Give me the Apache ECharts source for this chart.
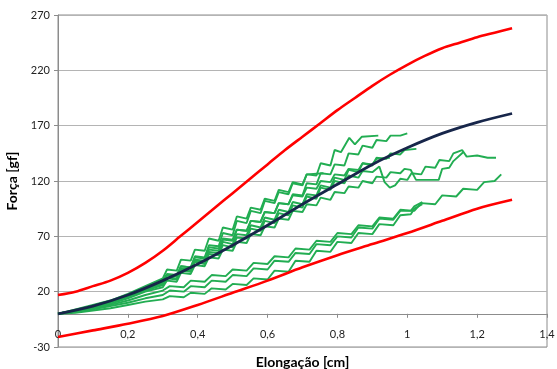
<!DOCTYPE html>
<html>
<head>
<meta charset="utf-8">
<script src="https://cdn.jsdelivr.net/npm/echarts@6/dist/echarts.min.js"></script>
<style>html,body{margin:0;padding:0;background:#fff}#c{width:557px;height:369px}</style>
</head>
<body>
<div id="c"></div>
<script>
// Axis settings / labels
const xTitle = 'Elongação [cm]';
const yTitle = 'Força [gf]';
const xMin = 0, xMax = 1.4, xStep = 0.2;
const yMin = -30, yMax = 270, yStep = 50;

// Mean curve
const meanCurve = [[0,0],[0.1,7],[0.2,17],[0.3,30],[0.4,45],[0.5,62],[0.6,80],[0.7,99],[0.8,117],[0.9,135],[1.0,150],[1.1,163],[1.2,173],[1.3,181]];
// Upper limit curve
const upperCurve = [[0,17],[0.05,20],[0.1,25],[0.15,30],[0.2,37],[0.25,46],[0.3,57],[0.35,70],[0.4,83],[0.45,96],[0.5,109],[0.55,122],[0.6,135],[0.65,148],[0.7,160],[0.75,172],[0.8,184],[0.85,195],[0.9,206],[0.95,216],[1.0,225],[1.05,233],[1.1,240],[1.15,245],[1.2,250],[1.25,254],[1.3,258]];
// Lower limit curve
const lowerCurve = [[0,-21],[0.1,-15],[0.2,-9],[0.3,-2],[0.4,8],[0.5,19],[0.6,30],[0.7,42],[0.8,53],[0.9,63],[1.0,73],[1.1,84],[1.2,95],[1.3,103]];

// Individual samples
const sample1 = [[0,0],[0.05,3],[0.1,7],[0.15,11],[0.2,17],[0.25,24],[0.3,30],[0.312,36],[0.34,35],[0.352,43],[0.38,42],[0.392,52],[0.42,51],[0.432,62],[0.46,61],[0.472,73],[0.5,71],[0.512,84],[0.54,82],[0.552,93],[0.58,91],[0.592,102],[0.62,100],[0.632,110],[0.66,108],[0.672,118],[0.7,116],[0.712,126],[0.74,125],[0.752,136],[0.78,134],[0.792,148],[0.81,146],[0.834,159],[0.85,153],[0.87,160],[0.917,161]];
const sample2 = [[0,0],[0.05,3],[0.1,7],[0.15,11],[0.2,17],[0.25,24],[0.3,29],[0.312,35],[0.34,34],[0.352,41],[0.38,41],[0.392,49],[0.42,48],[0.432,58],[0.46,57],[0.472,67],[0.5,66],[0.512,76],[0.54,75],[0.552,84],[0.58,83],[0.592,92],[0.62,91],[0.632,100],[0.66,99],[0.672,108],[0.7,107],[0.712,118],[0.74,117],[0.752,127],[0.78,126],[0.792,135],[0.82,134],[0.832,145],[0.86,144],[0.872,152],[0.9,150],[0.912,157],[0.94,156],[0.952,161],[0.98,161],[1.0,163]];
const sample3 = [[0,0],[0.05,3],[0.1,6],[0.15,10],[0.2,16],[0.25,22],[0.3,27],[0.312,33],[0.34,32],[0.352,40],[0.38,39],[0.392,48],[0.42,47],[0.432,56],[0.46,55],[0.472,65],[0.5,63],[0.512,72],[0.54,71],[0.552,80],[0.58,78],[0.592,87],[0.62,85],[0.632,94],[0.66,92],[0.672,101],[0.7,99],[0.712,108],[0.74,107],[0.752,116],[0.78,114],[0.792,123],[0.82,121],[0.832,130],[0.86,128],[0.872,136],[0.9,134],[0.912,141],[0.94,140],[0.952,145],[0.98,144],[0.992,148],[1.026,149]];
const sample4 = [[0,0],[0.05,3],[0.1,6],[0.15,10],[0.2,15],[0.25,21],[0.3,26],[0.312,32],[0.34,31],[0.352,39],[0.38,38],[0.392,47],[0.42,45],[0.432,54],[0.46,53],[0.472,62],[0.5,60],[0.512,69],[0.54,68],[0.552,77],[0.58,75],[0.592,84],[0.62,82],[0.632,91],[0.66,89],[0.672,98],[0.7,96],[0.712,106],[0.74,104],[0.752,114],[0.78,112],[0.792,120],[0.82,118],[0.832,125],[0.86,123],[0.872,129],[0.9,128],[0.92,133],[0.935,119],[0.95,114],[0.965,116],[0.98,122],[1.0,121],[1.012,127],[1.04,126],[1.052,133],[1.08,132],[1.092,139],[1.12,138],[1.132,145],[1.157,148],[1.17,142],[1.2,143],[1.23,141],[1.254,141]];
const sample5 = [[0,0],[0.05,2],[0.1,5],[0.15,9],[0.2,14],[0.25,20],[0.3,24],[0.312,30],[0.34,29],[0.352,37],[0.38,36],[0.392,44],[0.42,43],[0.432,51],[0.46,50],[0.472,58],[0.5,57],[0.512,65],[0.54,64],[0.552,72],[0.58,71],[0.592,79],[0.62,78],[0.632,86],[0.66,85],[0.672,93],[0.7,92],[0.712,99],[0.74,98],[0.752,105],[0.78,103],[0.792,110],[0.82,109],[0.832,115],[0.86,114],[0.872,120],[0.9,118],[0.912,124],[0.94,123],[0.952,128],[0.98,127],[0.992,131],[1.01,130],[1.025,121],[1.09,121],[1.1,131],[1.12,132],[1.132,138],[1.16,146]];
const sample6 = [[0,0],[0.05,3],[0.1,7],[0.15,11],[0.2,16],[0.25,23],[0.3,28],[0.312,35],[0.34,34],[0.352,43],[0.38,42],[0.392,51],[0.42,50],[0.432,60],[0.46,59],[0.472,68],[0.5,67],[0.512,76],[0.54,75],[0.552,84],[0.58,83],[0.592,92],[0.62,91],[0.632,100],[0.66,99],[0.672,107],[0.7,106],[0.712,114],[0.74,113],[0.752,120],[0.78,119],[0.792,126],[0.82,125],[0.832,131],[0.86,130],[0.872,136],[0.9,135],[0.912,140],[0.95,141]];
const sample7 = [[0,0],[0.05,4],[0.1,8],[0.15,12],[0.2,18],[0.25,25],[0.3,32],[0.312,40],[0.34,39],[0.352,49],[0.38,48],[0.392,58],[0.42,57],[0.432,68],[0.46,66],[0.472,78],[0.5,76],[0.512,88],[0.54,86],[0.552,96],[0.58,94],[0.592,104],[0.62,102],[0.632,112],[0.66,110],[0.672,119],[0.7,117],[0.712,126],[0.76,127]];
const sample8 = [[0,0],[0.05,2],[0.1,5],[0.15,8],[0.2,12],[0.25,17],[0.3,21],[0.32,25],[0.36,24],[0.38,30],[0.42,29],[0.44,35],[0.48,34],[0.5,40],[0.54,39],[0.56,46],[0.6,45],[0.62,52],[0.66,51],[0.68,59],[0.72,58],[0.74,66],[0.78,65],[0.8,73],[0.84,72],[0.86,80],[0.9,79],[0.92,87],[0.96,86],[0.98,94],[1.02,93],[1.04,100],[1.08,99],[1.1,107],[1.14,106],[1.16,113],[1.2,112],[1.22,119],[1.25,120],[1.269,126]];
const sample9 = [[0,0],[0.05,2],[0.1,4],[0.15,7],[0.2,10],[0.25,14],[0.3,17],[0.32,21],[0.36,20],[0.38,25],[0.42,24],[0.44,30],[0.48,29],[0.5,35],[0.54,34],[0.56,41],[0.6,40],[0.62,48],[0.66,47],[0.68,55],[0.72,54],[0.74,63],[0.78,62],[0.8,70],[0.84,69],[0.86,78],[0.9,77],[0.92,86],[0.96,85],[0.98,93],[1.01,93],[1.02,97],[1.043,101]];
const sample10 = [[0,0],[0.05,1],[0.1,3],[0.15,5],[0.2,8],[0.25,11],[0.3,13],[0.32,16],[0.36,15],[0.38,19],[0.42,18],[0.44,23],[0.48,22],[0.5,27],[0.54,26],[0.56,32],[0.6,31],[0.62,39],[0.66,38],[0.68,48],[0.72,47],[0.74,57],[0.78,56],[0.8,65],[0.84,64],[0.86,73],[0.9,72],[0.92,81],[0.96,80],[0.98,89],[1.01,90],[1.02,95],[1.043,99]];

const samples = [sample1, sample2, sample3, sample4, sample5, sample6, sample7, sample8, sample9, sample10];

const font = 'Lato, "Open Sans", sans-serif';
const series = [];
samples.forEach((s, i) => {
  series.push({ type: 'line', name: 'amostra ' + (i + 1), data: s, showSymbol: false, smooth: false,
    lineStyle: { color: '#22ad52', width: 1.9 }, z: 2 });
});
series.push({ type: 'line', name: 'limite superior', data: upperCurve, showSymbol: false, smooth: 0.3,
  lineStyle: { color: '#ff0000', width: 2.6 }, z: 3 });
series.push({ type: 'line', name: 'limite inferior', data: lowerCurve, showSymbol: false, smooth: 0.3,
  lineStyle: { color: '#ff0000', width: 2.6 }, z: 3 });
series.push({ type: 'line', name: 'média', data: meanCurve, showSymbol: false, smooth: 0.3,
  lineStyle: { color: '#17264a', width: 2.8 }, z: 4 });

const chart = echarts.init(document.getElementById('c'), null, { renderer: 'canvas' });
chart.setOption({
  animation: false,
  backgroundColor: '#ffffff',
  grid: { left: 58, right: 10, top: 15, bottom: 22, show: true, borderColor: '#8c8c8c', borderWidth: 1,
    containLabel: false, outerBoundsMode: 'none' },
  xAxis: {
    type: 'value', min: xMin, max: xMax, interval: xStep, position: 'bottom', offset: 0,
    name: xTitle, nameLocation: 'middle', nameGap: 42,
    nameTextStyle: { fontFamily: font, fontWeight: 'bold', fontSize: 14, color: '#000' },
    axisLine: { show: true, onZero: false, lineStyle: { color: '#8c8c8c', width: 1 } },
    axisTick: { show: true, length: 4, lineStyle: { color: '#8c8c8c' } },
    axisLabel: { fontFamily: font, fontSize: 11, color: '#222', margin: 15,
      formatter: v => String(Math.round(v * 10) / 10).replace('.', ',') },
    splitLine: { show: false }
  },
  yAxis: {
    type: 'value', min: yMin, max: yMax, interval: yStep,
    name: yTitle, nameLocation: 'middle', nameGap: 28, nameRotate: 90,
    nameTextStyle: { fontFamily: font, fontWeight: 'bold', fontSize: 14, color: '#000' },
    axisLine: { show: true, onZero: false, lineStyle: { color: '#8c8c8c', width: 1 } },
    axisTick: { show: true, length: 4, lineStyle: { color: '#8c8c8c' } },
    axisLabel: { fontFamily: font, fontSize: 11, color: '#222', margin: 8 },
    splitLine: { show: true, lineStyle: { color: '#b4b4b4', width: 1 } }
  },
  series: series
});
// Place the x axis line on the value 0 of the y axis (as in the original Excel chart)
const yZeroPx = chart.convertToPixel({ yAxisIndex: 0 }, 0);
const yBottomPx = chart.convertToPixel({ yAxisIndex: 0 }, yMin);
chart.setOption({ xAxis: { offset: yZeroPx - yBottomPx } });
</script>
</body>
</html>
